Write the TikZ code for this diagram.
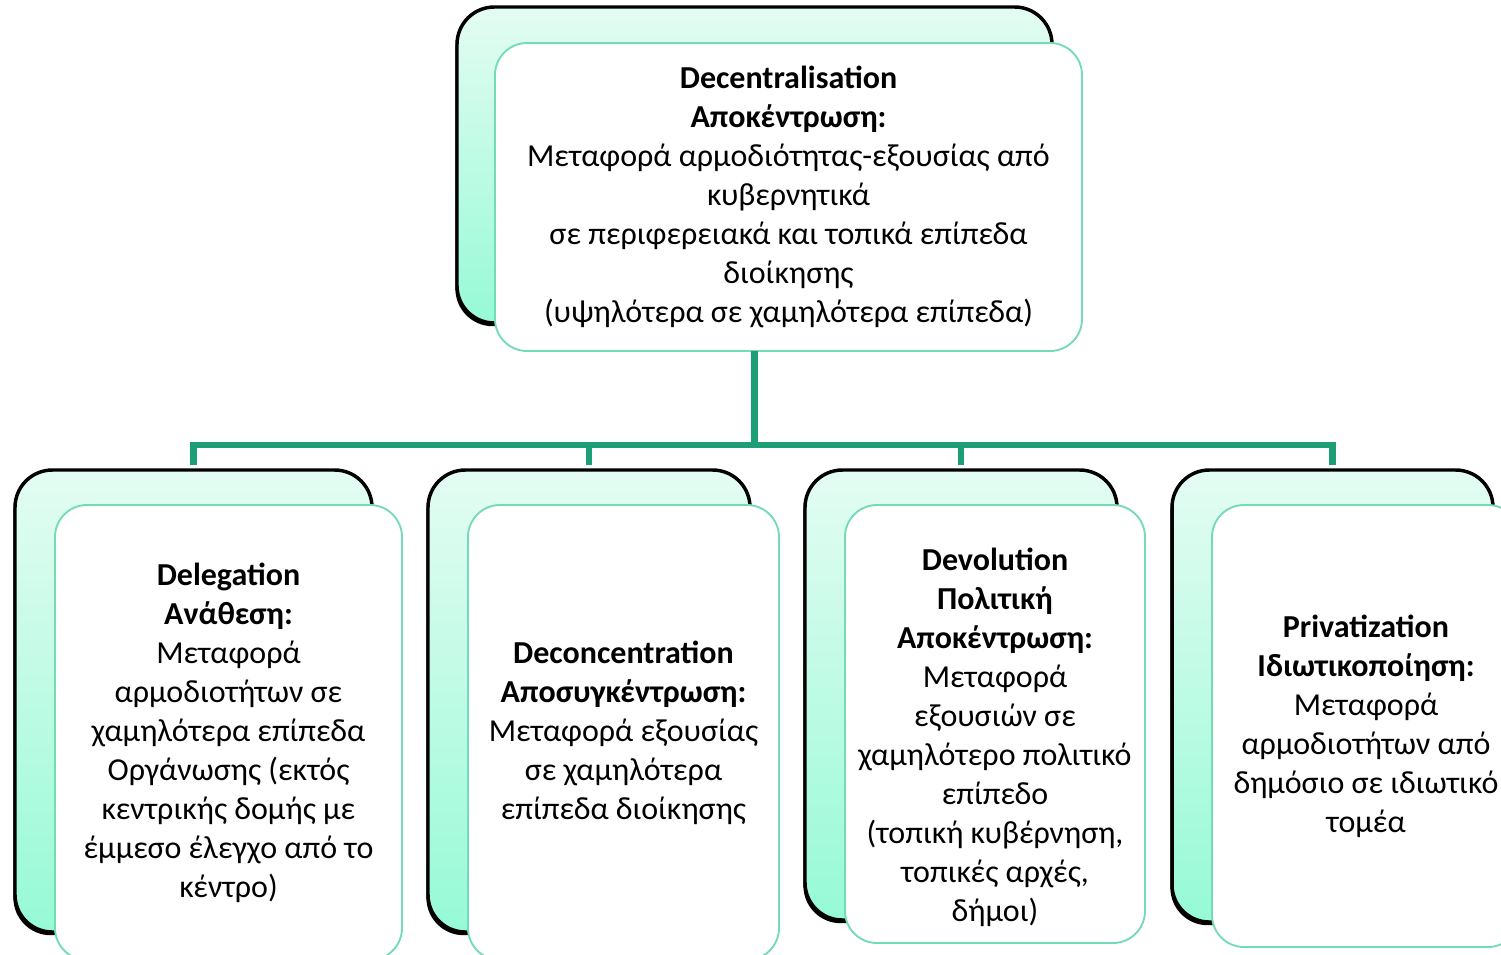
\documentclass[tikz,border=0pt]{standalone}
\usepackage{fontspec}
\setmainfont{Carlito}
\usepackage{tikz}
\usetikzlibrary{positioning,calc,shadows}
\definecolor{linkgreen}{RGB}{28,158,119}
\definecolor{edgegreen}{RGB}{115,220,180}
\definecolor{mintlight}{RGB}{228,252,243}
\definecolor{mintdark}{RGB}{150,250,214}

\begin{document}
\begin{tikzpicture}[x=0.75pt, y=-0.75pt,
  back/.style={draw=black, line width=2.6pt, rounded corners=28pt, inner sep=0pt, outer sep=0pt,
    top color=mintlight, bottom color=mintdark,
    drop shadow={opacity=1, fill=black, shadow xshift=-1.2pt, shadow yshift=-2.4pt}},
  cardtext/.style={align=center, font=\fontsize{24}{29.25}\selectfont},
  front/.style={cardtext, draw=edgegreen, line width=1.4pt, rounded corners=24pt, fill=white, inner sep=0pt, outer sep=0pt},
  link/.style={draw=linkgreen, line width=4.6pt}]
  \useasboundingbox (0,0) rectangle (1501,954);
  \clip (0,0) rectangle (1501,954);

  % stacked cards behind
  \node[back, minimum width=446.25pt, minimum height=237pt] (topback) at (754.5,165) {};
  \node[back, minimum width=267.75pt, minimum height=346.5pt] (delback) at (193.5,701) {};
  \node[back, minimum width=241.5pt, minimum height=346.5pt] (decback) at (589,701) {};
  \node[back, minimum width=234pt, minimum height=337.5pt] (devback) at (961,695) {};
  \node[back, minimum width=240.75pt, minimum height=339pt] (privback) at (1332.5,696) {};

  % text cards
  \node[front, minimum width=440.25pt, minimum height=231pt] (top) at (788.5,197)
    {\textbf{Decentralisation}\\\textbf{Αποκέντρωση:}\\Μεταφορά αρμοδιότητας-εξουσίας από\\κυβερνητικά\\σε περιφερειακά και τοπικά επίπεδα\\διοίκησης\\(υψηλότερα σε χαμηλότερα επίπεδα)};
  \node[front, minimum width=260.25pt, minimum height=341.25pt] (del) at (228.5,732.5)
    {\textbf{Delegation}\\\textbf{Ανάθεση:}\\Μεταφορά\\αρμοδιοτήτων σε\\χαμηλότερα επίπεδα\\Οργάνωσης (εκτός\\κεντρικής δομής με\\έμμεσο έλεγχο από το\\κέντρο)};
  \node[front, minimum width=233.25pt, minimum height=341.25pt] (dec) at (623.5,732.5)
    {\textbf{Deconcentration}\\\textbf{Αποσυγκέντρωση:}\\Μεταφορά εξουσίας\\σε χαμηλότερα\\επίπεδα διοίκησης};
  \node[front, minimum width=225pt, minimum height=328.5pt] (dev) at (995,724) {};
  \node[cardtext] (devtext) at (995,737)
    {\textbf{Devolution}\\\textbf{Πολιτική}\\\textbf{Αποκέντρωση:}\\Μεταφορά\\εξουσιών σε\\χαμηλότερο πολιτικό\\επίπεδο\\(τοπική κυβέρνηση,\\τοπικές αρχές,\\δήμοι)};
  \node[front, minimum width=231pt, minimum height=331.5pt] (priv) at (1366,726)
    {\textbf{Privatization}\\\textbf{Ιδιωτικοποίηση:}\\Μεταφορά\\αρμοδιοτήτων από\\δημόσιο σε ιδιωτικό\\τομέα};

  % tree connectors
  \coordinate (bus) at (0,445);
  \draw[link] (topback.south |- top.south) -- (topback.south |- bus);
  \draw[link] ($(delback.north)+(0,-5)$) -- (delback.north |- bus) -- (privback.north |- bus) -- ($(privback.north)+(0,-5)$);
  \draw[link] (decback.north |- bus) -- ($(decback.north)+(0,-5)$);
  \draw[link] (devback.north |- bus) -- ($(devback.north)+(0,-5)$);
\end{tikzpicture}
\end{document}
